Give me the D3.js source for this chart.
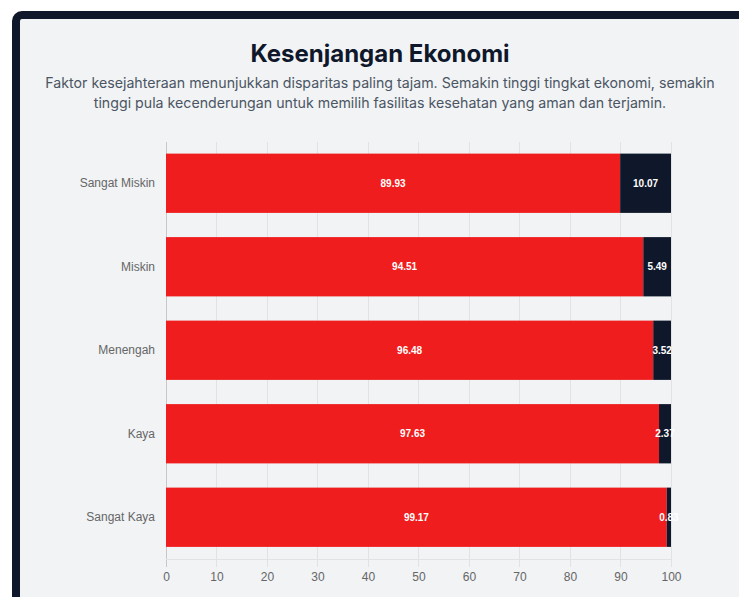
<!DOCTYPE html>
<html>
<head>
<meta charset="utf-8">
<script src="https://cdn.jsdelivr.net/npm/d3@7"></script>
<style>
  html, body { margin: 0; padding: 0; background: #fff; overflow: hidden; }
  svg { display: block; }
</style>
</head>
<body>
<div id="chart"></div>
<script>
"use strict";

// data
const categories = ["Sangat Miskin", "Miskin", "Menengah", "Kaya", "Sangat Kaya"];
const safeValues = [89.93, 94.51, 96.48, 97.63, 99.17];
const otherValues = [10.07, 5.49, 3.52, 2.37, 0.83];
const xTicks = [0, 10, 20, 30, 40, 50, 60, 70, 80, 90, 100];
const titleText = "Kesenjangan Ekonomi";
const subtitleLines = [
  "Faktor kesejahteraan menunjukkan disparitas paling tajam. Semakin tinggi tingkat ekonomi, semakin",
  "tinggi pula kecenderungan untuk memilih fasilitas kesehatan yang aman dan terjamin."
];

const W = 739, H = 597;
const colors = { safe: "#ef1d1d", other: "#0f172a" };

const svg = d3.select("#chart").append("svg")
  .attr("width", W)
  .attr("height", H);

// card
svg.append("rect")
  .attr("x", 16).attr("y", 15)
  .attr("width", 760).attr("height", 640)
  .attr("rx", 6)
  .attr("fill", "#f1f3f5")
  .attr("stroke", "#0f172a")
  .attr("stroke-width", 8);

// title + subtitle
svg.append("text")
  .attr("x", 380).attr("y", 62)
  .attr("text-anchor", "middle")
  .attr("font-family", "Inter, sans-serif")
  .attr("font-weight", 700)
  .attr("font-size", 24)
  .attr("fill", "#0f172a")
  .text(titleText);

svg.append("g").selectAll("text")
  .data(subtitleLines)
  .enter().append("text")
  .attr("x", 380)
  .attr("y", (d, i) => 88 + i * 19.5)
  .attr("text-anchor", "middle")
  .attr("font-family", "Inter, sans-serif")
  .attr("font-size", 14.2)
  .attr("fill", "#4b5563")
  .text(d => d);

// scales
const x = d3.scaleLinear().domain([0, 100]).range([166, 671]);
const y = d3.scaleBand()
  .domain(categories)
  .range([141.5, 559])
  .paddingInner(0.29)
  .paddingOuter(0.145);

// grid
const grid = svg.append("g");
grid.selectAll("line")
  .data(xTicks)
  .enter().append("line")
  .attr("x1", d => x(d)).attr("x2", d => x(d))
  .attr("y1", 141.5).attr("y2", 567)
  .attr("stroke", d => d === 0 ? "#c8c8c8" : "#e2e2e2")
  .attr("stroke-width", 1)
  .attr("shape-rendering", "crispEdges");

grid.append("line")
  .attr("x1", x(0)).attr("x2", x(100))
  .attr("y1", 559).attr("y2", 559)
  .attr("stroke", "#e2e2e2")
  .attr("shape-rendering", "crispEdges");

// bars
const rows = categories.map((c, i) => ({ cat: c, safe: safeValues[i], other: otherValues[i] }));
const bars = svg.append("g").selectAll("g")
  .data(rows)
  .enter().append("g");

bars.append("rect")
  .attr("x", x(0))
  .attr("y", d => y(d.cat))
  .attr("width", d => x(d.safe) - x(0))
  .attr("height", y.bandwidth())
  .attr("fill", colors.safe);

bars.append("rect")
  .attr("x", d => x(d.safe))
  .attr("y", d => y(d.cat))
  .attr("width", d => x(d.safe + d.other) - x(d.safe))
  .attr("height", y.bandwidth())
  .attr("fill", colors.other);

const labelStyle = sel => sel
  .attr("text-anchor", "middle")
  .attr("dominant-baseline", "central")
  .attr("font-family", "Liberation Sans, Arial, sans-serif")
  .attr("font-weight", 700)
  .attr("font-size", 10)
  .attr("fill", "#fff");

bars.append("text")
  .attr("x", d => (x(0) + x(d.safe)) / 2)
  .attr("y", d => y(d.cat) + y.bandwidth() / 2)
  .call(labelStyle)
  .text(d => d.safe.toFixed(2));

bars.append("text")
  .attr("x", d => (x(d.safe) + x(d.safe + d.other)) / 2)
  .attr("y", d => y(d.cat) + y.bandwidth() / 2)
  .call(labelStyle)
  .text(d => d.other.toFixed(2));

// axes labels
const xAxis = d3.axisBottom(x).tickValues(xTicks).tickSize(0).tickPadding(13);
const gx = svg.append("g").attr("transform", "translate(0,559)").call(xAxis);
gx.select(".domain").remove();
gx.selectAll("text")
  .attr("font-family", "Liberation Sans, Arial, sans-serif")
  .attr("font-size", 12)
  .attr("fill", "#666");

const yAxis = d3.axisLeft(y).tickSize(0).tickPadding(11);
const gy = svg.append("g").attr("transform", `translate(${x(0)},0)`).call(yAxis);
gy.select(".domain").remove();
gy.selectAll("text")
  .attr("font-family", "Liberation Sans, Arial, sans-serif")
  .attr("font-size", 12)
  .attr("fill", "#666");
</script>
</body>
</html>
